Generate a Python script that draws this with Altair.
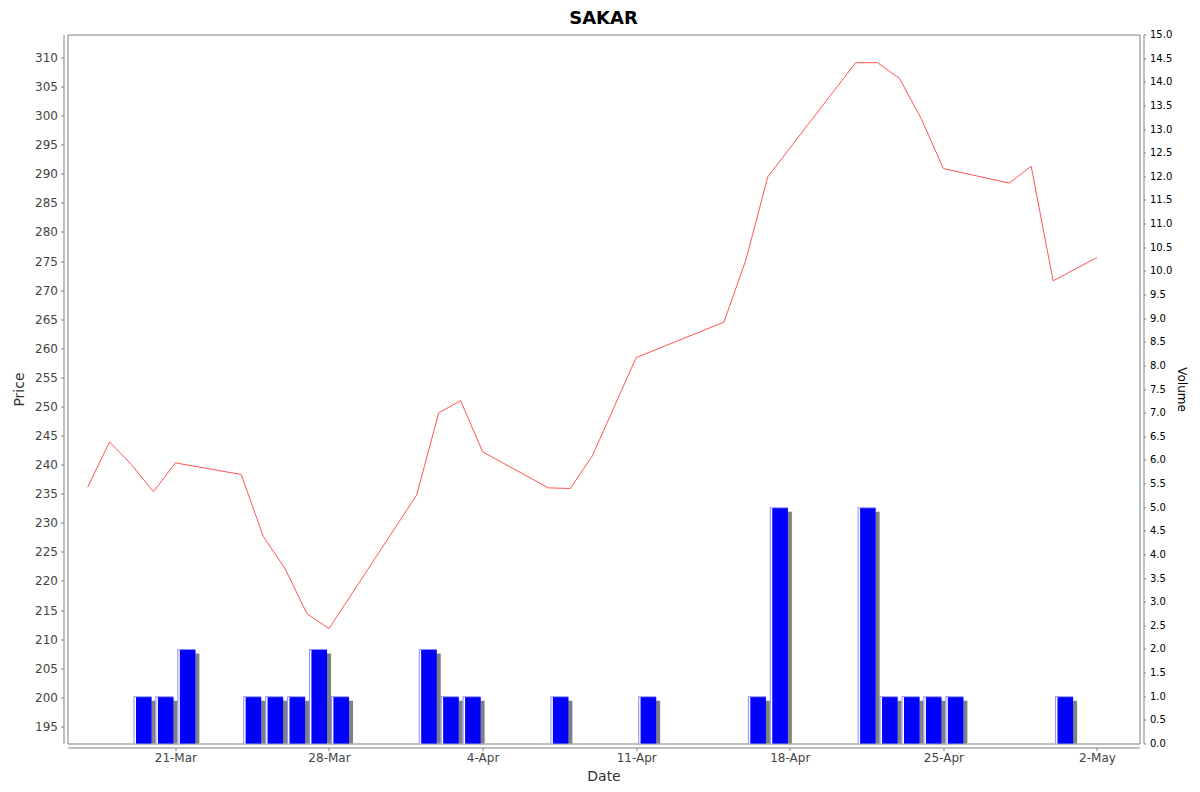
import altair as alt
import pandas as pd

# ---- data ----
price_dates = ["2024-03-17", "2024-03-18", "2024-03-19", "2024-03-20", "2024-03-21",
               "2024-03-24", "2024-03-25", "2024-03-26", "2024-03-27", "2024-03-28",
               "2024-04-01", "2024-04-02", "2024-04-03", "2024-04-04", "2024-04-07",
               "2024-04-08", "2024-04-09", "2024-04-11", "2024-04-15", "2024-04-16",
               "2024-04-17", "2024-04-21", "2024-04-22", "2024-04-23", "2024-04-24",
               "2024-04-25", "2024-04-28", "2024-04-29", "2024-04-30", "2024-05-02"]
prices = [236.1, 243.9, 240.0, 235.35, 240.3,
          238.3, 227.7, 222.1, 214.35, 211.8,
          234.8, 248.9, 251.0, 242.2, 236.0,
          235.9, 241.5, 258.4, 264.5, 275.2,
          289.5, 309.1, 309.1, 306.4, 299.4,
          290.9, 288.4, 291.3, 271.6, 275.6]

vol_dates = ["2024-03-19", "2024-03-20", "2024-03-21", "2024-03-24", "2024-03-25",
             "2024-03-26", "2024-03-27", "2024-03-28", "2024-04-01", "2024-04-02",
             "2024-04-03", "2024-04-07", "2024-04-11", "2024-04-16", "2024-04-17",
             "2024-04-21", "2024-04-22", "2024-04-23", "2024-04-24", "2024-04-25",
             "2024-04-30"]
volumes = [1, 1, 2, 1, 1,
           1, 2, 1, 2, 1,
           1, 1, 1, 1, 5,
           5, 1, 1, 1, 1,
           1]

tick_dates = [(3, 21), (3, 28), (4, 4), (4, 11), (4, 18), (4, 25), (5, 2)]
price_ticks = list(range(195, 311, 5))
vol_ticks = [i * 0.5 for i in range(0, 31)]

price_df = pd.DataFrame({"Date": price_dates, "Price": prices})
vol_df = pd.DataFrame({"Date": vol_dates, "Volume": volumes})

GRAY = "#808080"
x_scale = alt.Scale(
    type="utc",
    domain=[alt.DateTime(year=2024, month=3, date=16, hours=2, utc=True),
            alt.DateTime(year=2024, month=5, date=3, hours=22, minutes=30, utc=True)],
    nice=False,
)
x_axis = alt.Axis(
    values=[alt.DateTime(year=2024, month=m, date=d, utc=True) for m, d in tick_dates],
    labelExpr="utcFormat(datum.value, '%-d-%b')", title="Date",
    grid=False, offset=4, domainColor=GRAY, tickColor=GRAY, tickSize=3,
    labelFont="DejaVu Sans", labelFontSize=12, labelColor="#444444", labelPadding=2,
    titleFont="DejaVu Sans", titleFontSize=14, titleFontWeight="normal", titleColor="#333333",
    titlePadding=6,
)
vol_scale = alt.Scale(domain=[0, 15], nice=False, zero=True)
vol_axis = alt.Axis(
    values=vol_ticks, format=".1f", title="Volume", orient="right",
    grid=False, offset=4, domainColor=GRAY, tickColor=GRAY, tickSize=2,
    labelFont="DejaVu Sans", labelFontSize=10, labelColor="#000000", labelPadding=4,
    titleFont="DejaVu Sans", titleFontSize=12, titleFontWeight="normal", titleColor="#000000",
    titleAngle=90, titlePadding=3,
)
price_axis = alt.Axis(
    values=price_ticks, title="Price", orient="left",
    grid=False, offset=4, domainColor=GRAY, tickColor=GRAY, tickSize=3,
    labelFont="DejaVu Sans", labelFontSize=12, labelColor="#444444", labelPadding=3,
    titleFont="DejaVu Sans", titleFontSize=14, titleFontWeight="normal", titleColor="#333333",
    titlePadding=8,
)

xenc = alt.X("Date:T", scale=x_scale, axis=x_axis)
yvol = alt.Y("Volume:Q", scale=vol_scale, axis=vol_axis)

base_vol = alt.Chart(vol_df)
shadow = base_vol.mark_rect(color=GRAY, xOffset=6, x2Offset=24, yOffset=4.5).encode(
    x=xenc, x2="Date:T", y=yvol, y2=alt.datum(0))
edge = base_vol.mark_rect(color="#8c8cff", xOffset=2, x2Offset=20).encode(
    x=xenc, x2="Date:T", y=yvol, y2=alt.datum(0))
white = base_vol.mark_rect(color="#ffffff", xOffset=3, x2Offset=4.5, yOffset=1).encode(
    x=xenc, x2="Date:T", y=yvol, y2=alt.datum(0))
blue = base_vol.mark_rect(color="#0000ff", xOffset=4.5, x2Offset=20, yOffset=1).encode(
    x=xenc, x2="Date:T", y=yvol, y2=alt.datum(0))

vol_layer = alt.layer(shadow, edge, white, blue)

line = alt.Chart(price_df).mark_line(color="#ff5555", strokeWidth=1).encode(
    x=xenc,
    y=alt.Y("Price:Q", scale=alt.Scale(domain=[192.05, 313.95], nice=False, zero=False),
            axis=price_axis),
)

chart = alt.layer(line, vol_layer).resolve_scale(y="independent").properties(
    width=1072, height=709,
    title=alt.TitleParams("SAKAR", fontSize=18, font="DejaVu Sans", fontWeight="bold",
                          color="#000000", anchor="middle", offset=2),
    autosize=alt.AutoSizeParams(type="none"),
    padding={"left": 59.5, "top": 26.5, "right": 52.5, "bottom": 40.5},
    background="#ffffff",
).configure_view(stroke=GRAY, strokeWidth=1)

chart.save("out.html", embed_options={"renderer": "svg", "actions": False})
